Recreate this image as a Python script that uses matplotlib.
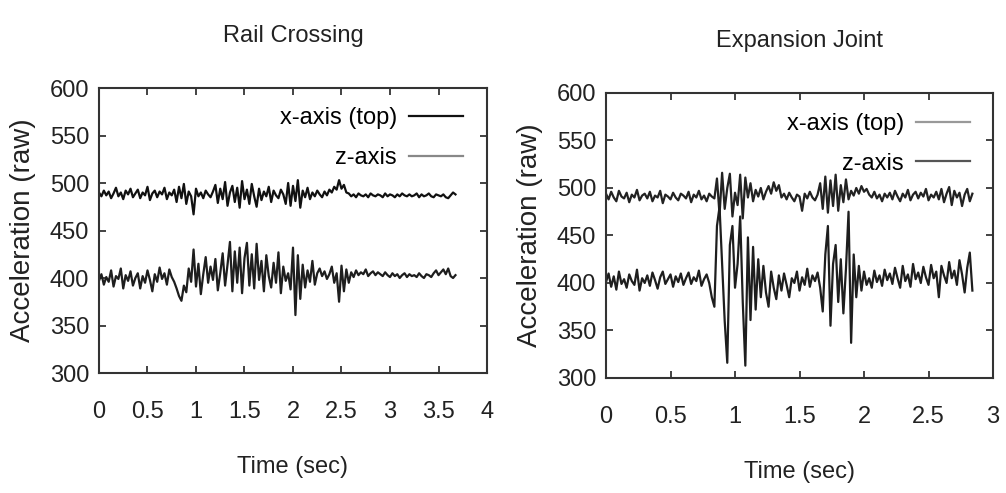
import numpy as np
import matplotlib.pyplot as plt
from matplotlib.lines import Line2D

plt.rcParams['font.family'] = ['Liberation Sans', 'DejaVu Sans']

# Rail Crossing, sampled every 0.025 s
rail_dt = 0.025
rail_x = [490, 486, 492, 487, 491, 484, 489, 495, 486, 490, 483, 492, 488, 494, 485, 489,
          493, 484, 490, 487, 496, 482, 489, 492, 485, 491, 488, 495, 483, 490, 487, 493,
          480, 496, 484, 499, 478, 491, 486, 467, 494, 486, 490, 484, 492, 488, 485, 491,
          498, 479, 494, 483, 501, 476, 490, 497, 480, 495, 474, 502, 483, 493, 478, 499,
          486, 475, 494, 482, 491, 486, 496, 480, 492, 487, 484, 493, 488, 478, 500, 476,
          497, 481, 503, 474, 492, 485, 495, 483, 490, 486, 492, 488, 485, 491, 487, 493,
          490, 496, 493, 503, 494, 498, 490, 489, 486, 488, 485, 489, 487, 486, 488, 485,
          489, 487, 486, 488, 487, 485, 489, 486, 488, 487, 485, 488, 486, 489, 487, 486,
          488, 486, 487, 489, 485, 488, 486, 487, 489, 486, 485, 488, 487, 486, 488, 485,
          484, 487, 490, 488]
rail_z = [397, 404, 393, 401, 396, 408, 391, 402, 399, 410, 389, 403, 397, 407, 392, 400,
          405, 389, 402, 395, 408, 398, 386, 404, 396, 411, 399, 405, 393, 409, 401, 396,
          389, 381, 376, 392, 385, 410, 396, 430, 391, 415, 383, 404, 422, 395, 412, 398,
          420, 387, 405, 426, 392, 414, 438, 386, 428, 395, 432, 384, 421, 437, 392, 425,
          389, 436, 398, 418, 386, 424, 402, 390, 416, 395, 427, 384, 412, 397, 405, 388,
          432, 361, 424, 378, 414, 390, 408, 396, 418, 393, 405, 410, 402, 407, 399, 404,
          412, 395, 405, 375, 413, 386, 409, 395, 406, 401, 408, 403, 406, 404, 409, 402,
          405, 407, 403, 406, 404, 402, 406, 403, 401, 405, 402, 404, 400, 403, 405, 401,
          404, 402, 403, 401, 405, 402, 400, 404, 403, 401, 405, 408, 403, 406, 409, 404,
          410, 402, 400, 403]

# Expansion Joint, sampled every 0.02 s
joint_dt = 0.02
joint_x = [494, 488, 496, 490, 486, 497, 491, 489, 495, 485, 493, 490, 498, 487, 492, 494,
           489, 496, 486, 492, 490, 497, 484, 493, 491, 488, 495, 490, 487, 494, 492, 489,
           496, 485, 493, 490, 497, 488, 492, 486, 494, 491, 489,
           510, 472, 516, 478, 500, 515, 470, 495, 482, 514, 468, 511, 490, 505, 486,
           498, 491, 500, 488, 496, 502, 494, 506, 497, 503, 490,
           494, 488, 495, 490, 486, 493, 491, 476, 494, 489, 496, 490, 487, 493,
           505, 478, 512, 474, 508, 481, 514, 476, 503, 485, 509, 488,
           497, 492, 500, 494, 502, 496, 499, 493, 490, 496, 489, 493, 486, 494, 490, 495,
           488, 497, 491, 486, 494, 490, 498, 487, 493, 496, 489, 495, 491, 499, 487, 493,
           490, 496, 488, 499, 485, 494, 501, 482, 497, 490, 495, 481, 493, 499, 486, 494]
joint_z = [401, 410, 396, 407, 393, 412, 399, 404, 395, 409, 402, 398, 414, 392, 405, 400,
           408, 397, 411, 403, 394, 406, 412, 399, 404, 409, 396, 407, 401, 410, 398, 405,
           411, 399, 406, 402, 413, 397, 404, 409, 400, 385, 375,
           460, 480, 420, 360, 316, 440, 460, 395, 420, 470, 380, 313, 448, 361, 438,
           372, 425, 385, 418, 390, 375, 412, 395, 383, 408, 392,
           410, 398, 385, 405, 400, 412, 392, 406, 398, 415, 396, 408, 402, 411,
           395, 370, 430, 460, 355, 420, 440, 380, 425, 368, 415, 475,
           337, 430, 385, 418, 392, 412, 398, 405, 395, 413, 401, 408, 397, 414, 403, 410,
           399, 416, 405, 395, 418, 402, 409, 396, 420, 404, 411, 400, 417, 406, 398, 419,
           405, 412, 385, 418, 408, 400, 422, 405, 413, 398, 424, 409, 390, 416, 432, 392]

y_ticks = [300, 350, 400, 450, 500, 550, 600]


def panel(ax, title, dt, sx, sz, xmax, xticks, line_cols, leg_cols, leg_anchor):
    tx = np.arange(len(sx)) * dt
    tz = np.arange(len(sz)) * dt
    ax.plot(tx, sx, color=line_cols[0], lw=1.6)
    ax.plot(tz, sz, color=line_cols[1], lw=1.6)
    ax.set_xlim(0, xmax)
    ax.set_ylim(300, 600)
    ax.set_xticks(xticks)
    ax.set_xticklabels([('%g' % v) for v in xticks])
    ax.set_yticks(y_ticks)
    ax.tick_params(direction='in', top=True, right=True, length=5, width=1.2,
                   labelsize=17, colors='#222222')
    ax.tick_params(axis='x', pad=20)
    ax.tick_params(axis='y', pad=7)
    for s in ax.spines.values():
        s.set_linewidth(1.5)
        s.set_color('#333333')
    ax.set_title(title, fontsize=17, pad=33, color='#222222')
    ax.set_xlabel('Time (sec)', fontsize=17, labelpad=24, color='#222222')
    ax.set_ylabel('Acceleration (raw)', fontsize=20, labelpad=10, color='#222222')
    handles = [Line2D([], [], color=leg_cols[0], lw=1.6),
               Line2D([], [], color=leg_cols[1], lw=1.6)]
    ax.legend(handles, ['x-axis (top)', 'z-axis'], loc='upper right',
              bbox_to_anchor=leg_anchor, frameon=False, markerfirst=False,
              fontsize=17, handlelength=2.3, labelspacing=0.75,
              borderaxespad=0, borderpad=0, handletextpad=0.5)


fig = plt.figure(figsize=(10.06, 4.93), dpi=100)
ax1 = fig.add_axes([0.0984, 0.2434, 0.3857, 0.5781])
ax2 = fig.add_axes([0.6024, 0.2333, 0.3847, 0.5781])

panel(ax1, 'Rail Crossing', rail_dt, rail_x, rail_z, 4,
      [0, 0.5, 1, 1.5, 2, 2.5, 3, 3.5, 4], ['#111111', '#1e1e1e'], ['#111111', '#888888'],
      (0.938, 0.932))
panel(ax2, 'Expansion Joint', joint_dt, joint_x, joint_z, 3,
      [0, 0.5, 1, 1.5, 2, 2.5, 3], ['#222222', '#1e1e1e'], ['#999999', '#555555'],
      (0.941, 0.93))

fig.savefig('out.png', dpi=100)
